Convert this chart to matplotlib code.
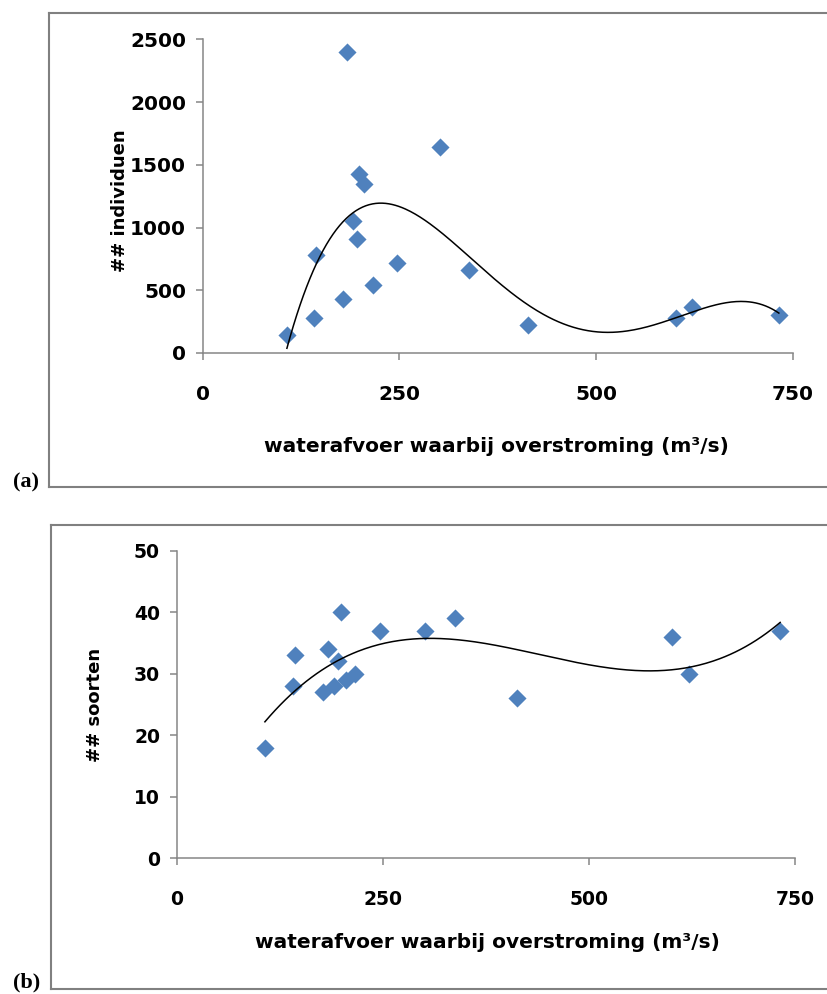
import numpy as np
import matplotlib
matplotlib.use("Agg")
import matplotlib.pyplot as plt
from matplotlib.lines import Line2D

# discharge at which flooding occurs (m3/s)
afvoer = [107, 141, 144, 178, 183, 191, 196, 199, 205, 216, 247, 301, 338, 413, 601, 622, 732]
individuen = [140, 280, 780, 430, 2400, 1050, 910, 1430, 1350, 540, 720, 1645, 665, 220, 280, 370, 305]
soorten = [18, 28, 33, 27, 34, 28, 32, 40, 29, 30, 37, 37, 39, 26, 36, 30, 37]

x_ticks = [0, 250, 500, 750]
ticks_a = [0, 500, 1000, 1500, 2000, 2500]
ticks_b = [0, 10, 20, 30, 40, 50]

BLUE = "#4F81BD"
GRAY = "#868686"
FONT = "DejaVu Sans"

plt.rcParams["font.family"] = FONT

W, H = 827, 994
fig = plt.figure(figsize=(W / 100, H / 100), dpi=100)


def px_axes(left, top, right, bottom):
    return fig.add_axes([left / W, 1 - bottom / H, (right - left) / W, (bottom - top) / H])


def style(ax, fs, xpad):
    for s in ["top", "right"]:
        ax.spines[s].set_visible(False)
    for s in ["left", "bottom"]:
        ax.spines[s].set_color(GRAY)
        ax.spines[s].set_linewidth(1.1)
    ax.tick_params(axis="both", direction="out", length=5, width=1.1, color=GRAY,
                   labelsize=fs)
    ax.tick_params(axis="x", pad=xpad)
    ax.tick_params(axis="y", pad=7)
    for lab in ax.get_xticklabels() + ax.get_yticklabels():
        lab.set_fontweight("bold")


def panel_frame(left, top, bottom):
    kw = dict(color="#808080", linewidth=1.5, transform=fig.transFigure)
    l, t, b = left / W, 1 - top / H, 1 - bottom / H
    fig.add_artist(Line2D([l, 1.01], [t, t], **kw))
    fig.add_artist(Line2D([l, l], [b, t], **kw))
    fig.add_artist(Line2D([l, 1.01], [b, b], **kw))


def trend(ax, x, y, deg):
    c = np.polyfit(x, y, deg)
    xs = np.linspace(min(x), max(x), 300)
    ax.plot(xs, np.polyval(c, xs), color="black", linewidth=1.1, zorder=3)


# panel (a)
ax1 = px_axes(202.7, 39.3, 793, 353)
ax1.scatter(afvoer, individuen, marker="D", s=85, color=BLUE, linewidths=0, zorder=2)
trend(ax1, afvoer, individuen, 4)
ax1.set_xlim(0, 750)
ax1.set_ylim(0, 2500)
ax1.set_xticks(x_ticks)
ax1.set_yticks(ticks_a)
style(ax1, 14.5, 18)
ax1.set_xlabel("waterafvoer waarbij overstroming (m³/s)", fontsize=14.5,
               fontweight="bold", va="center")
ax1.xaxis.set_label_coords(0.497, -0.299)
ax1.set_ylabel("## individuen", fontsize=13, fontweight="bold", va="center")
ax1.yaxis.set_label_coords(-0.140, 0.487)

# panel (b)
ax2 = px_axes(176.7, 550.7, 795, 858.3)
ax2.scatter(afvoer, soorten, marker="D", s=85, color=BLUE, linewidths=0, zorder=2)
trend(ax2, afvoer, soorten, 3)
ax2.set_xlim(0, 750)
ax2.set_ylim(0, 50)
ax2.set_xticks(x_ticks)
ax2.set_yticks(ticks_b)
style(ax2, 13.5, 18)
ax2.set_xlabel("waterafvoer waarbij overstroming (m³/s)", fontsize=14.5,
               fontweight="bold", va="center")
ax2.xaxis.set_label_coords(0.502, -0.275)
ax2.set_ylabel("## soorten", fontsize=13, fontweight="bold", va="center")
ax2.yaxis.set_label_coords(-0.132, 0.498)

panel_frame(48.7, 12.7, 486.7)
panel_frame(50.7, 525, 989)

fig.text(26 / W, 1 - 482 / H, "(a)", family="Liberation Serif", fontweight="bold",
         fontsize=16, ha="center", va="center")
fig.text(27 / W, 1 - 982 / H, "(b)", family="Liberation Serif", fontweight="bold",
         fontsize=16, ha="center", va="center")

fig.savefig("out.png", dpi=100)
